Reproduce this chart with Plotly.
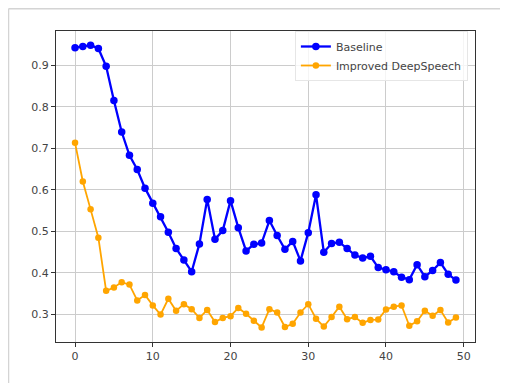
import plotly.graph_objects as go

epochs = list(range(50))
baseline = [0.942, 0.945, 0.948, 0.940, 0.897, 0.815, 0.739, 0.683, 0.649, 0.604,
            0.568, 0.535, 0.498, 0.459, 0.431, 0.403, 0.470, 0.577, 0.481, 0.502,
            0.574, 0.509, 0.453, 0.469, 0.472, 0.526, 0.490, 0.457, 0.476, 0.429,
            0.497, 0.588, 0.450, 0.471, 0.474, 0.459, 0.443, 0.436, 0.440, 0.413,
            0.408, 0.403, 0.390, 0.384, 0.420, 0.391, 0.406, 0.425, 0.397, 0.383]
improved = [0.713, 0.620, 0.553, 0.485, 0.357, 0.365, 0.378, 0.372, 0.334, 0.347,
            0.322, 0.300, 0.338, 0.309, 0.325, 0.313, 0.292, 0.311, 0.282, 0.292,
            0.296, 0.316, 0.302, 0.285, 0.269, 0.313, 0.305, 0.270, 0.278, 0.305,
            0.325, 0.290, 0.271, 0.294, 0.319, 0.289, 0.294, 0.280, 0.287, 0.288,
            0.312, 0.319, 0.322, 0.273, 0.284, 0.309, 0.297, 0.311, 0.281, 0.293]
xticks = [0, 10, 20, 30, 40, 50]
yticks = [0.3, 0.4, 0.5, 0.6, 0.7, 0.8, 0.9]

# page body adds an 8px offset, so the figure is 8px smaller
W, H = 500, 375
ml, mr, mt, mb = 48, 33, 23, 41
pw, ph = W - ml - mr, H - mt - mb

fig = go.Figure()
fig.add_trace(go.Scatter(x=epochs, y=baseline, mode="lines+markers", name="Baseline",
                         line=dict(color="#0000ff", width=2.3),
                         marker=dict(color="#0000ff", size=7.5)))
fig.add_trace(go.Scatter(x=epochs, y=improved, mode="lines+markers", name="Improved DeepSpeech",
                         line=dict(color="#ffa500", width=1.8),
                         marker=dict(color="#ffa500", size=6.5)))

def px_x(p):
    return (p - ml) / pw
def px_y(p):
    return (H - mb - p) / ph
border = "#d4d4d4"
shapes = [
    dict(type="line", xref="paper", yref="paper", x0=px_x(0.5), x1=px_x(W), y0=px_y(0.8), y1=px_y(0.8),
         line=dict(color=border, width=1.5)),
    dict(type="line", xref="paper", yref="paper", x0=px_x(0.5), x1=px_x(0.5), y0=px_y(0.8), y1=px_y(H),
         line=dict(color=border, width=1.5)),
]

axis_common = dict(showline=True, linecolor="#333333", linewidth=1.2, mirror=True,
                   ticks="outside", ticklen=4, tickcolor="#333333",
                   showgrid=True, gridcolor="#cccccc", gridwidth=1, zeroline=False,
                   tickfont=dict(family="DejaVu Sans", size=11, color="#444444"))

fig.update_layout(
    width=W, height=H,
    margin=dict(l=ml, r=mr, t=mt, b=mb),
    paper_bgcolor="white", plot_bgcolor="white",
    xaxis=dict(range=[-2.45, 51.45], tickvals=xticks, **axis_common),
    yaxis=dict(range=[0.234, 0.982], tickvals=yticks, tickformat=".1f", **axis_common),
    legend=dict(x=0.983, y=1.0, xanchor="right", yanchor="top",
                bgcolor="rgba(255,255,255,0.8)", bordercolor="#e6e6e6", borderwidth=1,
                font=dict(family="DejaVu Sans", size=11, color="#444444"),
                tracegroupgap=0, itemwidth=30),
    shapes=shapes,
    showlegend=True,
)

fig.write_html("out.html")
